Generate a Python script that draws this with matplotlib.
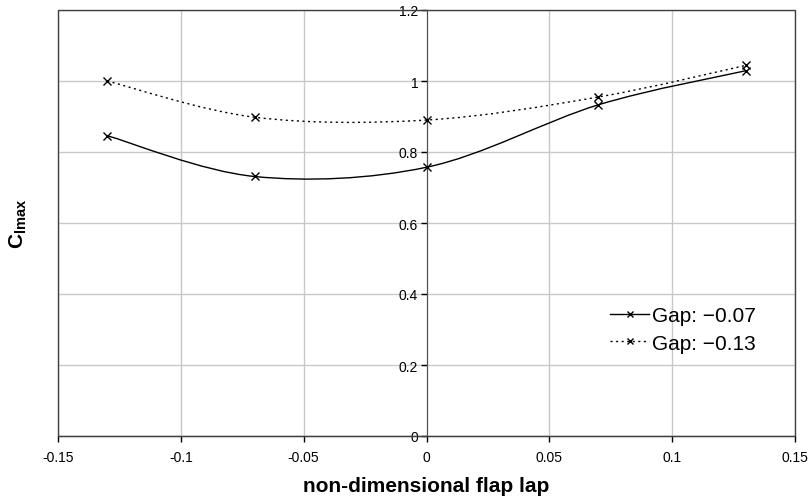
import matplotlib
matplotlib.use('Agg')
import matplotlib.pyplot as plt
from matplotlib.path import Path
from matplotlib.patches import PathPatch, Rectangle
from matplotlib.lines import Line2D

# Data
flap_lap = [-0.13, -0.07, 0.0, 0.07, 0.13]
clmax_gap_007 = [0.846, 0.731, 0.757, 0.933, 1.029]
clmax_gap_013 = [1.000, 0.898, 0.890, 0.955, 1.044]
series_labels = ['Gap: \u22120.07', 'Gap: \u22120.13']

x_ticks = [-0.15, -0.1, -0.05, 0, 0.05, 0.1, 0.15]
x_tick_labels = ['-0.15', '-0.1', '-0.05', '0', '0.05', '0.1', '0.15']
y_ticks = [0, 0.2, 0.4, 0.6, 0.8, 1.0, 1.2]
y_tick_labels = ['0', '0.2', '0.4', '0.6', '0.8', '1', '1.2']

plt.rcParams['font.family'] = ['Liberation Sans', 'DejaVu Sans']
plt.rcParams['mathtext.fontset'] = 'custom'
plt.rcParams['mathtext.bf'] = 'Liberation Sans:bold'
plt.rcParams['mathtext.rm'] = 'Liberation Sans'


def smooth_path(xs, ys):
    # Excel-style smoothed line: cubic Bezier through every point
    verts = [(xs[0], ys[0])]
    codes = [Path.MOVETO]
    n = len(xs)
    for i in range(n - 1):
        x0, y0 = (xs[i - 1], ys[i - 1]) if i > 0 else (xs[i], ys[i])
        x1, y1 = xs[i], ys[i]
        x2, y2 = xs[i + 1], ys[i + 1]
        x3, y3 = (xs[i + 2], ys[i + 2]) if i + 2 < n else (x2, y2)
        c1 = (x1 + (x2 - x0) / 6, y1 + (y2 - y0) / 6)
        c2 = (x2 - (x3 - x1) / 6, y2 - (y3 - y1) / 6)
        verts += [c1, c2, (x2, y2)]
        codes += [Path.CURVE4] * 3
    return Path(verts, codes)


fig = plt.figure(figsize=(8.11, 5.02), dpi=100)
ax = fig.add_axes([58 / 811, 1 - 437 / 502, (795 - 58) / 811, (437 - 11) / 502])

ax.set_xlim(-0.15, 0.15)
ax.set_ylim(0, 1.2)

ax.add_patch(PathPatch(smooth_path(flap_lap, clmax_gap_007), fill=False,
                       edgecolor='black', linewidth=1.0, zorder=3))
ax.add_patch(PathPatch(smooth_path(flap_lap, clmax_gap_013), fill=False,
                       edgecolor='black', linewidth=1.0, linestyle=(0, (1.5, 2.5)), zorder=3))
ax.plot(flap_lap, clmax_gap_007, linestyle='none', marker='x', color='black',
        markersize=6, markeredgewidth=1, zorder=4)
ax.plot(flap_lap, clmax_gap_013, linestyle='none', marker='x', color='black',
        markersize=6, markeredgewidth=1, zorder=4)

# Axes: y-axis at x=0, outer frame drawn separately
ax.spines['left'].set_position(('data', 0))
ax.spines['left'].set_color('#505050')
ax.spines['right'].set_visible(False)
ax.spines['top'].set_visible(False)
ax.spines['bottom'].set_color('black')
ax.add_patch(Rectangle((0, 0), 1, 1, transform=ax.transAxes, fill=False,
                       edgecolor='#404040', linewidth=1.0, clip_on=False, zorder=5))

ax.set_xticks(x_ticks)
ax.set_xticklabels(x_tick_labels)
ax.set_yticks(y_ticks)
ax.set_yticklabels(y_tick_labels)
ax.tick_params(axis='both', direction='out', length=4, width=1, labelsize=10, colors='black')
ax.tick_params(axis='x', pad=6)
ax.tick_params(axis='y', pad=2)

ax.grid(True, color='#c8c8c8', linewidth=1)
ax.set_axisbelow(True)

ax.set_xlabel('non-dimensional flap lap', fontsize=15, fontweight='bold', labelpad=9)
fig.text(18 / 811, 1 - 224 / 502, r'$\mathbf{C}_{\mathbf{lmax}}$', fontsize=15,
         rotation=90, ha='center', va='center')

handles = [Line2D([], [], color='black', linewidth=1, marker='x', markersize=5),
           Line2D([], [], color='black', linewidth=1, linestyle=(0, (1.5, 2.5)),
                  marker='x', markersize=5)]
ax.legend(handles, series_labels, loc='upper left', bbox_to_anchor=(0.738, 0.325),
          frameon=False, fontsize=15, handlelength=1.85, handletextpad=0.15,
          labelspacing=0.42, borderaxespad=0)

fig.savefig('out.png', dpi=100)
